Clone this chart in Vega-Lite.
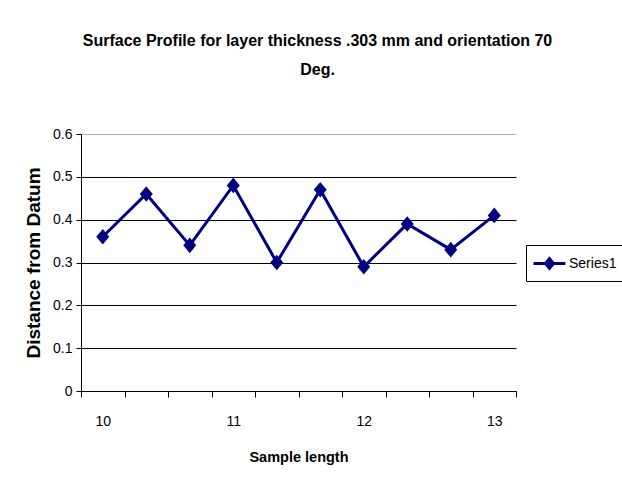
{
  "$schema": "https://vega.github.io/schema/vega-lite/v6.json",
  "autosize": "none",
  "width": 435,
  "height": 257,
  "padding": {"left": 81, "top": 134, "right": 106, "bottom": 95},
  "background": "white",
  "config": {
    "font": "Liberation Sans",
    "view": {"stroke": null}
  },
  "title": {
    "text": ["Surface Profile for layer thickness .303 mm and  orientation 70", "Deg."],
    "font": "Liberation Sans",
    "fontSize": 16,
    "fontWeight": "bold",
    "color": "black",
    "lineHeight": 29,
    "anchor": "middle",
    "dx": 19,
    "offset": 49
  },
  "data": {
    "values": [
      {"length": 10.0, "distance": 0.36, "series": "Series1"},
      {"length": 10.33, "distance": 0.46, "series": "Series1"},
      {"length": 10.67, "distance": 0.34, "series": "Series1"},
      {"length": 11.0, "distance": 0.48, "series": "Series1"},
      {"length": 11.33, "distance": 0.30, "series": "Series1"},
      {"length": 11.67, "distance": 0.47, "series": "Series1"},
      {"length": 12.0, "distance": 0.29, "series": "Series1"},
      {"length": 12.33, "distance": 0.39, "series": "Series1"},
      {"length": 12.67, "distance": 0.33, "series": "Series1"},
      {"length": 13.0, "distance": 0.41, "series": "Series1"}
    ]
  },
  "mark": {
    "type": "line",
    "strokeWidth": 3,
    "point": {"filled": true, "shape": "M-1,0L0,-1.2L1,0L0,1.2Z", "size": 169, "opacity": 1}
  },
  "encoding": {
    "x": {
      "field": "length",
      "type": "ordinal",
      "scale": {"type": "band", "paddingInner": 0, "paddingOuter": 0},
      "axis": {
        "title": "Sample length",
        "titleFontSize": 14.5,
        "titleFontWeight": "bold",
        "titleColor": "black",
        "titlePadding": 22,
        "tickBand": "extent",
        "labelAngle": 0,
        "labelExpr": "datum.value % 1 == 0 ? datum.label : ''",
        "labelFontSize": 14,
        "labelColor": "black",
        "labelPadding": 17,
        "tickSize": 6,
        "tickColor": "black",
        "domainColor": "black",
        "domainWidth": 1,
        "grid": false
      }
    },
    "y": {
      "field": "distance",
      "type": "quantitative",
      "scale": {"domain": [0, 0.6], "nice": false, "zero": true},
      "axis": {
        "title": "Distance from Datum",
        "titleFontSize": 19,
        "titleFontWeight": "bold",
        "titleColor": "black",
        "titlePadding": 9,
        "values": [0, 0.1, 0.2, 0.3, 0.4, 0.5, 0.6],
        "labelExpr": "datum.value == 0 ? '0' : format(datum.value, '.1f')",
        "labelFontSize": 14,
        "labelColor": "black",
        "labelPadding": 4,
        "tickSize": 5,
        "tickColor": "black",
        "domainColor": "black",
        "grid": true,
        "gridColor": {"condition": {"test": "datum.value >= 0.59", "value": "#b4b4b4"}, "value": "black"},
        "gridOpacity": 1,
        "gridWidth": 1
      }
    },
    "color": {
      "field": "series",
      "type": "nominal",
      "scale": {"range": ["#000080"]},
      "legend": {
        "title": null,
        "orient": "none",
        "legendX": 445,
        "legendY": 111,
        "strokeColor": "black",
        "fillColor": "white",
        "padding": 6,
        "symbolType": "M-1,0L1.9,0M0.09,0L0.45,-0.45L0.81,0L0.45,0.45Z",
        "symbolSize": 484,
        "symbolStrokeWidth": 3,
        "symbolStrokeColor": "#000080",
        "symbolFillColor": "#000080",
        "labelFontSize": 14,
        "labelColor": "black",
        "labelOffset": 12
      }
    }
  }
}
